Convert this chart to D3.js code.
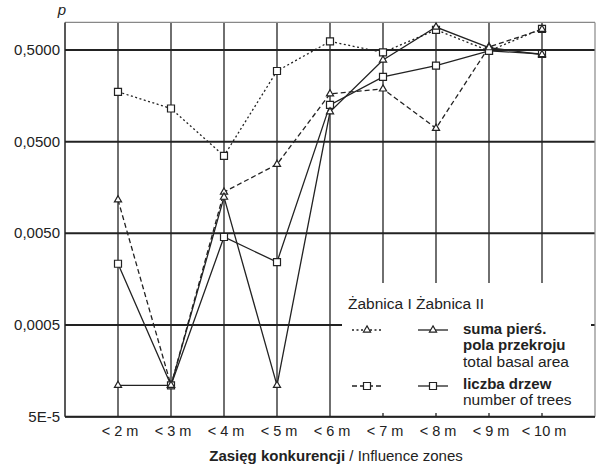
<!DOCTYPE html>
<html>
<head>
<meta charset="utf-8">
<script src="https://d3js.org/d3.v7.min.js"></script>
<style>
  body { margin: 0; background: #fff; }
  svg text { font-family: "Liberation Sans", Arial, sans-serif; fill: #222; }
</style>
</head>
<body>
<script>
var zones = ["< 2 m", "< 3 m", "< 4 m", "< 5 m", "< 6 m", "< 7 m", "< 8 m", "< 9 m", "< 10 m"];
var yTicks = [0.5, 0.05, 0.005, 0.0005, 0.00005];
var yTickLabels = ["0,5000", "0,0500", "0,0050", "0,0005", "5E-5"];

// Zabnica I (dotted, squares as drawn) / (dashed, triangles as drawn)
var zab1Squares = [0.175, 0.115, 0.035, 0.295, 0.62, 0.47, 0.83, 0.49, 0.85];
var zab1Triangles = [0.0116, 0.00011, 0.0141, 0.0283, 0.166, 0.188, 0.070, 0.54, 0.84];
// Zabnica II (solid)
var zab2Squares = [0.00233, 0.00011, 0.00456, 0.00243, 0.126, 0.254, 0.337, 0.49, 0.452];
var zab2Triangles = [0.00011, 0.00011, 0.0124, 0.00011, 0.106, 0.389, 0.89, 0.53, 0.446];

var W = 597, H = 465;
var plotL = 65, plotR = 595, plotT = 22.4, plotB = 416.7;

var svg = d3.select("body").append("svg").attr("width", W).attr("height", H);

var x = d3.scaleLinear().domain([0, 10]).range([plotL, plotR]);
var y = d3.scaleLog().domain([0.00005, 1]).range([plotB, plotT]);

var ink = "#222";

// vertical grid
svg.selectAll(".vg").data(zones).enter().append("line")
  .attr("x1", function(d, i) { return x(i + 1); })
  .attr("x2", function(d, i) { return x(i + 1); })
  .attr("y1", plotT).attr("y2", plotB)
  .attr("stroke", ink).attr("stroke-width", 1.3);

// horizontal grid (decades)
svg.selectAll(".hg").data(yTicks).enter().append("line")
  .attr("x1", plotL).attr("x2", plotR)
  .attr("y1", function(d) { return y(d); })
  .attr("y2", function(d) { return y(d); })
  .attr("stroke", ink).attr("stroke-width", 2);

// frame
svg.append("line").attr("x1", plotL).attr("x2", plotR).attr("y1", plotT).attr("y2", plotT)
  .attr("stroke", "#888").attr("stroke-width", 1.2);
svg.append("line").attr("x1", plotR).attr("x2", plotR).attr("y1", plotT).attr("y2", plotB)
  .attr("stroke", "#888").attr("stroke-width", 1.2);
svg.append("line").attr("x1", plotL).attr("x2", plotL).attr("y1", plotT).attr("y2", plotB)
  .attr("stroke", ink).attr("stroke-width", 1.5);

// y tick labels
svg.selectAll(".yl").data(yTicks).enter().append("text")
  .attr("x", plotL - 5)
  .attr("y", function(d) { return y(d) + 5; })
  .attr("text-anchor", "end")
  .style("font-size", "15px")
  .text(function(d, i) { return yTickLabels[i]; });

svg.append("text").attr("x", 62).attr("y", 15)
  .attr("text-anchor", "middle")
  .style("font-size", "15px").style("font-style", "italic")
  .text("p");

// x tick labels
svg.selectAll(".xl").data(zones).enter().append("text")
  .attr("x", function(d, i) { return x(i + 1) + 2; })
  .attr("y", 436)
  .attr("text-anchor", "middle")
  .style("font-size", "14.5px")
  .text(function(d) { return d; });

var title = svg.append("text").attr("x", 336).attr("y", 461)
  .attr("text-anchor", "middle").style("font-size", "15px");
title.append("tspan").style("font-weight", "bold").text("Zasięg konkurencji");
title.append("tspan").text(" / Influence zones");

var line = d3.line()
  .x(function(d, i) { return x(i + 1); })
  .y(function(d) { return y(d); });

var series = [
  { values: zab1Squares, dash: "2,2.5", marker: "square" },
  { values: zab1Triangles, dash: "5,3", marker: "triangle" },
  { values: zab2Squares, dash: null, marker: "square" },
  { values: zab2Triangles, dash: null, marker: "triangle" }
];

series.forEach(function(s) {
  svg.append("path").datum(s.values)
    .attr("d", line)
    .attr("fill", "none")
    .attr("stroke", ink)
    .attr("stroke-width", 1.3)
    .attr("stroke-dasharray", s.dash);
});

var sq = d3.symbol().type(d3.symbolSquare).size(49);
var tri = d3.symbol().type(d3.symbolTriangle).size(22);

function drawMarker(g, type, cx, cy) {
  g.append("path")
    .attr("d", type === "square" ? sq() : tri())
    .attr("transform", "translate(" + cx + "," + cy + ")")
    .attr("fill", "#fff")
    .attr("stroke", ink)
    .attr("stroke-width", 1.2);
}

series.forEach(function(s) {
  s.values.forEach(function(v, i) {
    drawMarker(svg, s.marker, x(i + 1), y(v));
  });
});

// legend
svg.append("rect").attr("x", 342).attr("y", 283).attr("width", 249).attr("height", 130)
  .attr("fill", "#fff");

svg.append("text").attr("x", 348).attr("y", 309).style("font-size", "15.5px")
  .text("Żabnica I Żabnica II");

function legendSample(x1, x2, yy, dash, type) {
  svg.append("line").attr("x1", x1).attr("x2", x2).attr("y1", yy).attr("y2", yy)
    .attr("stroke", ink).attr("stroke-width", 1.3).attr("stroke-dasharray", dash);
  drawMarker(svg, type, (x1 + x2) / 2, yy);
}

legendSample(352, 382, 330, "2,2.5", "triangle");
legendSample(418, 448, 330, null, "triangle");
legendSample(352, 382, 386, "5,3", "square");
legendSample(418, 448, 386, null, "square");

var lt = [
  { t: "suma pierś.", y: 334, b: true },
  { t: "pola przekroju", y: 350, b: true },
  { t: "total basal area", y: 367, b: false },
  { t: "liczba drzew", y: 389, b: true },
  { t: "number of trees", y: 405, b: false }
];
svg.selectAll(".lt").data(lt).enter().append("text")
  .attr("x", 463).attr("y", function(d) { return d.y; })
  .style("font-size", function(d) { return d.b ? "15px" : "15.5px"; })
  .style("font-weight", function(d) { return d.b ? "bold" : "normal"; })
  .text(function(d) { return d.t; });

// bottom axis line
svg.append("line").attr("x1", plotL).attr("x2", plotR).attr("y1", plotB).attr("y2", plotB)
  .attr("stroke", ink).attr("stroke-width", 1.5);
</script>
</body>
</html>
